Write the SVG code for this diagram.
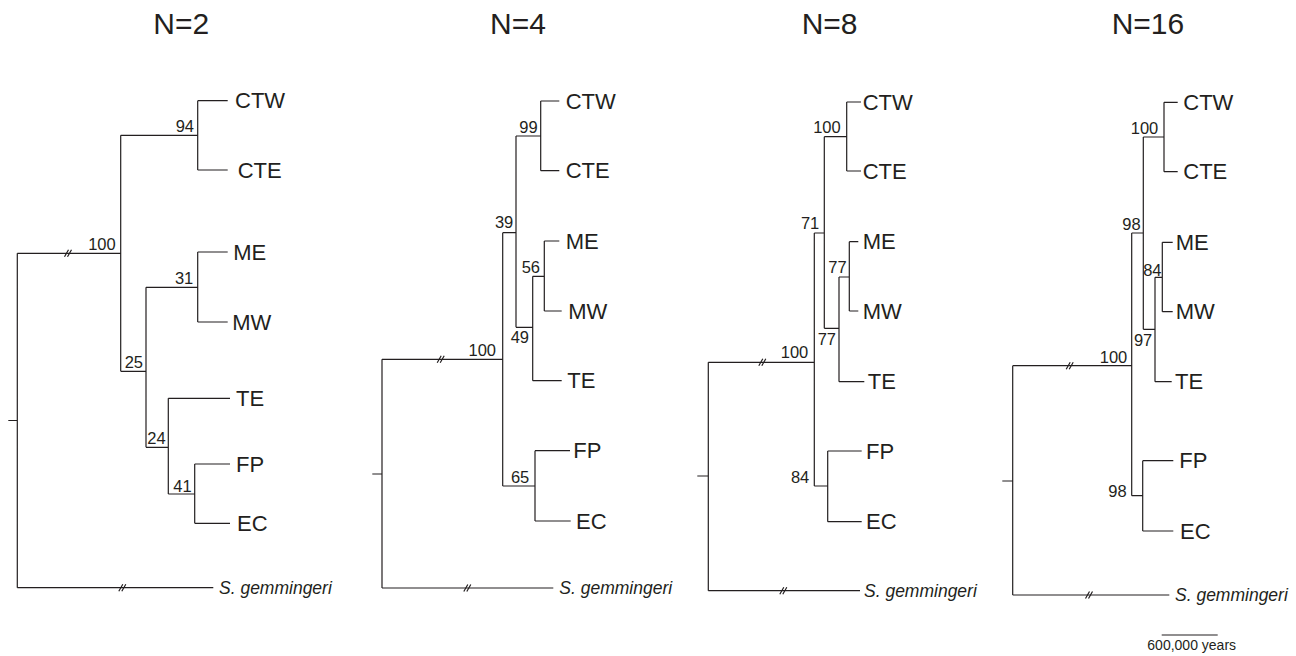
<svg xmlns="http://www.w3.org/2000/svg" xmlns:xlink="http://www.w3.org/1999/xlink" width="1296" height="656" viewBox="0 0 1296 656">
<style>
.e{fill:none;stroke:#231f20;stroke-width:1.2}
.t{font-family:"Liberation Sans",Arial,sans-serif;font-size:30px;fill:#231f20}
.x{font-family:"Liberation Sans",Arial,sans-serif;font-size:22px;fill:#231f20}
.s{font-family:"Liberation Sans",Arial,sans-serif;font-size:17.5px;font-style:italic;fill:#231f20}
.b{font-family:"Liberation Sans",Arial,sans-serif;font-size:16.5px;fill:#231f20}
.br{text-anchor:end}
.k{font-family:"Liberation Sans",Arial,sans-serif;font-size:14px;fill:#231f20;text-anchor:middle}
</style>
<defs>
<path id="brk" class="e" d="M-4.5 3.5L-0.5 -3.5M-1.5 3.5L2.5 -3.5" stroke-width="1"/>
</defs>
<rect width="1296" height="656" fill="#ffffff"/>

<g id="titles">
<text class="t" x="153.3" y="34.3">N=2</text>
<text class="t" x="490" y="34.3">N=4</text>
<text class="t" x="801.7" y="34.3">N=8</text>
<text class="t" x="1111.7" y="34.3">N=16</text>
</g>

<g id="connectors">
<!-- panel 1 -->
<path class="e" d="M8.3 420.5H17.3M17.3 253.3V587.7M17.3 253.3H120.7M17.3 587.7H213.3M120.7 135.3V371.3M120.7 135.3H197.7M197.7 100.7V170M197.7 100.7H227.7M197.7 170H227.7M120.7 371.3H146M146 287.3V447.3M146 287.3H197.7M197.7 252V322M197.7 252H227.7M197.7 322H227.7M146 447.3H168.3M168.3 398.3V494M168.3 398.3H230M168.3 494H194.7M194.7 464V523.3M194.7 464H230M194.7 523.3H230"/>
<use xlink:href="#brk" x="69" y="253.3"/>
<use xlink:href="#brk" x="123.3" y="587.7"/>
<!-- panel 2 -->
<path class="e" d="M372.3 474H382M382 359.3V588M382 359.3H502.7M382 588H553.3M502.7 232.7V486M502.7 232.7H516M516 136V327.3M516 136H540.7M540.7 101V170.7M540.7 101H559.3M540.7 170.7H559.3M516 327.3H532.7M532.7 276.3V380.7M532.7 276.3H544.3M544.3 241V311M544.3 241H559.3M544.3 311H561.7M532.7 380.7H561.7M502.7 486H535M535 450.7V521M535 450.7H570M535 521H570.7"/>
<use xlink:href="#brk" x="441.7" y="359.3"/>
<use xlink:href="#brk" x="468.3" y="588"/>
<!-- panel 3 -->
<path class="e" d="M697.3 476H708.3M708.3 362.3V590.7M708.3 362.3H814.3M708.3 590.7H860M814.3 233V486M814.3 233H824.3M824.3 136.7V328.3M824.3 136.7H846.7M846.7 102V171M846.7 102H861M846.7 171H861M824.3 328.3H839M839 277V381.7M839 277H849.3M849.3 241.7V311M849.3 241.7H858.3M849.3 311H858.3M839 381.7H864.3M814.3 486H827.7M827.7 451V521.7M827.7 451H861.7M827.7 521.7H861.7"/>
<use xlink:href="#brk" x="763.3" y="362.3"/>
<use xlink:href="#brk" x="784.3" y="590.7"/>
<!-- panel 4 -->
<path class="e" d="M1002.3 481H1012.7M1012.7 365.7V595M1012.7 365.7H1131.7M1012.7 595H1169.3M1131.7 233V495.7M1131.7 233H1143.3M1143.3 137V329.3M1143.3 137H1164M1164 102.3V171.7M1164 102.3H1177.7M1164 171.7H1177.7M1143.3 329.3H1155M1155 277.3V381.7M1155 277.3H1162.3M1162.3 242.3V311.7M1162.3 242.3H1172.7M1162.3 311.7H1172.7M1155 381.7H1171.7M1131.7 495.7H1142.7M1142.7 460.7V531M1142.7 460.7H1173.3M1142.7 531H1173.3"/>
<use xlink:href="#brk" x="1070.7" y="365.7"/>
<use xlink:href="#brk" x="1090" y="595"/>
</g>

<g id="panel-N2">
<g id="p1-CTW"><text class="x" x="235" y="108.2">CTW</text></g>
<g id="p1-CTE"><text class="x" x="237.7" y="177.5">CTE</text></g>
<g id="p1-ME"><text class="x" x="233.3" y="259.5">ME</text></g>
<g id="p1-MW"><text class="x" x="232.3" y="329.5">MW</text></g>
<g id="p1-TE"><text class="x" x="236" y="405.8">TE</text></g>
<g id="p1-FP"><text class="x" x="236" y="471.5">FP</text></g>
<g id="p1-EC"><text class="x" x="237" y="530.8">EC</text></g>
<g id="p1-SG"><text class="s" x="219" y="594">S. gemmingeri</text></g>
<g id="p1-n94"><text class="b br" x="194" y="131.7">94</text></g>
<g id="p1-n100"><text class="b br" x="115.7" y="250">100</text></g>
<g id="p1-n31"><text class="b br" x="193.3" y="284">31</text></g>
<g id="p1-n25"><text class="b br" x="143" y="368.3">25</text></g>
<g id="p1-n24"><text class="b br" x="165.7" y="444">24</text></g>
<g id="p1-n41"><text class="b br" x="191.7" y="491.7">41</text></g>
</g>

<g id="panel-N4">
<g id="p2-CTW"><text class="x" x="565.7" y="108.5">CTW</text></g>
<g id="p2-CTE"><text class="x" x="565.7" y="178.2">CTE</text></g>
<g id="p2-ME"><text class="x" x="565.7" y="248.5">ME</text></g>
<g id="p2-MW"><text class="x" x="568.3" y="318.5">MW</text></g>
<g id="p2-TE"><text class="x" x="567.3" y="388.2">TE</text></g>
<g id="p2-FP"><text class="x" x="573.3" y="458.2">FP</text></g>
<g id="p2-EC"><text class="x" x="576" y="528.5">EC</text></g>
<g id="p2-SG"><text class="s" x="559.3" y="594.3">S. gemmingeri</text></g>
<g id="p2-n99"><text class="b br" x="537.7" y="132.7">99</text></g>
<g id="p2-n39"><text class="b br" x="513.3" y="227.7">39</text></g>
<g id="p2-n56"><text class="b br" x="540" y="272.7">56</text></g>
<g id="p2-n49"><text class="b br" x="529" y="343.3">49</text></g>
<g id="p2-n100"><text class="b br" x="496" y="355.8">100</text></g>
<g id="p2-n65"><text class="b br" x="529.3" y="482.7">65</text></g>
</g>

<g id="panel-N8">
<g id="p3-CTW"><text class="x" x="862.7" y="109.5">CTW</text></g>
<g id="p3-CTE"><text class="x" x="862.7" y="178.5">CTE</text></g>
<g id="p3-ME"><text class="x" x="862.7" y="249.2">ME</text></g>
<g id="p3-MW"><text class="x" x="862.7" y="318.5">MW</text></g>
<g id="p3-TE"><text class="x" x="867.7" y="389.2">TE</text></g>
<g id="p3-FP"><text class="x" x="866" y="458.5">FP</text></g>
<g id="p3-EC"><text class="x" x="866" y="529.2">EC</text></g>
<g id="p3-SG"><text class="s" x="864" y="597">S. gemmingeri</text></g>
<g id="p3-n100a"><text class="b br" x="840.7" y="132.7">100</text></g>
<g id="p3-n71"><text class="b br" x="819.3" y="229.3">71</text></g>
<g id="p3-n77a"><text class="b br" x="846.7" y="273.3">77</text></g>
<g id="p3-n77b"><text class="b br" x="836" y="345">77</text></g>
<g id="p3-n100b"><text class="b br" x="808.3" y="358.3">100</text></g>
<g id="p3-n84"><text class="b br" x="809.3" y="483.3">84</text></g>
</g>

<g id="panel-N16">
<g id="p4-CTW"><text class="x" x="1183.3" y="109.8">CTW</text></g>
<g id="p4-CTE"><text class="x" x="1183.3" y="179.2">CTE</text></g>
<g id="p4-ME"><text class="x" x="1175.7" y="249.8">ME</text></g>
<g id="p4-MW"><text class="x" x="1175.7" y="319.2">MW</text></g>
<g id="p4-TE"><text class="x" x="1175" y="389.2">TE</text></g>
<g id="p4-FP"><text class="x" x="1179.3" y="468.2">FP</text></g>
<g id="p4-EC"><text class="x" x="1180" y="538.5">EC</text></g>
<g id="p4-SG"><text class="s" x="1175" y="601.3">S. gemmingeri</text></g>
<g id="p4-n100a"><text class="b br" x="1158.3" y="134">100</text></g>
<g id="p4-n98a"><text class="b br" x="1140.7" y="230">98</text></g>
<g id="p4-n84"><text class="b br" x="1161.5" y="276">84</text></g>
<g id="p4-n97"><text class="b br" x="1152.3" y="346">97</text></g>
<g id="p4-n100b"><text class="b br" x="1127.3" y="363.3">100</text></g>
<g id="p4-n98b"><text class="b br" x="1126.7" y="496.7">98</text></g>
</g>

<g id="scale">
<path class="e" d="M1161.7 635H1217.7"/>
<text class="k" x="1191.7" y="650">600,000 years</text>
</g>
</svg>
